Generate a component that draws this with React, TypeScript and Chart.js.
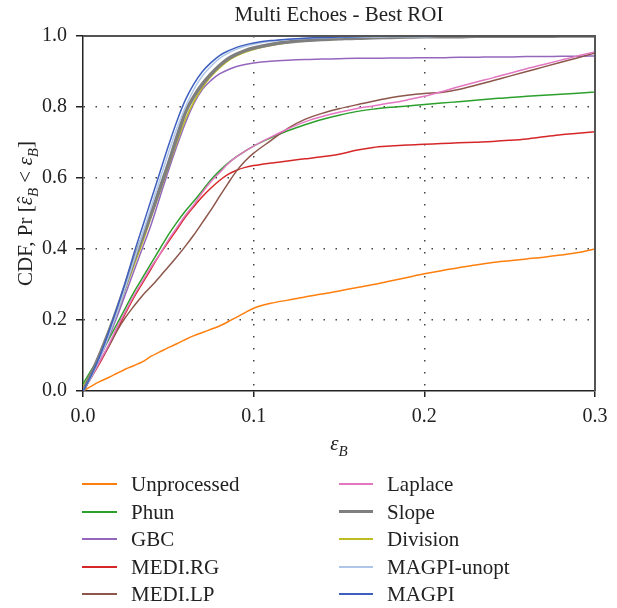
import React, { useEffect, useRef } from 'react';
import { Chart, registerables } from 'chart.js';

Chart.register(...registerables);

// ---------------- data ----------------
const eps = [0, 0.005, 0.01, 0.015, 0.02, 0.025, 0.03, 0.035, 0.04, 0.045, 0.05, 0.055, 0.06, 0.065, 0.07, 0.075, 0.08, 0.085, 0.09, 0.095, 0.1,
  0.11, 0.12, 0.13, 0.14, 0.15, 0.16, 0.17, 0.18, 0.19, 0.2, 0.21, 0.22, 0.23, 0.24, 0.25, 0.26, 0.27, 0.28, 0.29, 0.3];

const unprocessed = [0, 0.014, 0.027, 0.038, 0.05, 0.062, 0.072, 0.083, 0.098, 0.11, 0.122, 0.133, 0.145, 0.156, 0.165, 0.174, 0.183, 0.195, 0.208, 0.221, 0.233,
  0.247, 0.256, 0.265, 0.273, 0.282, 0.291, 0.3, 0.31, 0.32, 0.33, 0.339, 0.347, 0.355, 0.362, 0.367, 0.372, 0.377, 0.383, 0.39, 0.4];
const phun = [0.02, 0.06, 0.1, 0.145, 0.19, 0.235, 0.28, 0.32, 0.36, 0.4, 0.44, 0.475, 0.507, 0.535, 0.565, 0.595, 0.62, 0.642, 0.66, 0.676, 0.69,
  0.713, 0.733, 0.75, 0.765, 0.777, 0.787, 0.794, 0.799, 0.803, 0.807, 0.811, 0.815, 0.819, 0.823, 0.827, 0.83, 0.833, 0.836, 0.839, 0.842];
const gbc = [0, 0.045, 0.095, 0.15, 0.21, 0.275, 0.34, 0.405, 0.47, 0.545, 0.62, 0.69, 0.755, 0.81, 0.85, 0.875, 0.893, 0.905, 0.914, 0.92, 0.924,
  0.929, 0.932, 0.934, 0.935, 0.936, 0.937, 0.937, 0.938, 0.938, 0.939, 0.939, 0.94, 0.94, 0.941, 0.941, 0.942, 0.942, 0.943, 0.943, 0.944];
const mediRG = [0, 0.04, 0.08, 0.125, 0.172, 0.22, 0.265, 0.305, 0.345, 0.385, 0.42, 0.455, 0.49, 0.52, 0.548, 0.572, 0.593, 0.61, 0.622, 0.63, 0.635,
  0.642, 0.648, 0.654, 0.66, 0.667, 0.678, 0.686, 0.69, 0.693, 0.695, 0.697, 0.699, 0.701, 0.703, 0.706, 0.71, 0.716, 0.722, 0.726, 0.73];
const mediLP = [0, 0.04, 0.085, 0.125, 0.17, 0.208, 0.24, 0.27, 0.295, 0.322, 0.35, 0.378, 0.408, 0.44, 0.475, 0.51, 0.548, 0.585, 0.62, 0.648, 0.67,
  0.705, 0.74, 0.765, 0.782, 0.795, 0.806, 0.816, 0.826, 0.833, 0.838, 0.841, 0.849, 0.861, 0.874, 0.887, 0.9, 0.913, 0.926, 0.939, 0.952];
const laplace = [0, 0.04, 0.085, 0.13, 0.18, 0.225, 0.27, 0.31, 0.35, 0.385, 0.425, 0.46, 0.495, 0.525, 0.56, 0.59, 0.615, 0.64, 0.66, 0.676, 0.69,
  0.715, 0.738, 0.758, 0.773, 0.785, 0.795, 0.803, 0.811, 0.82, 0.83, 0.843, 0.857, 0.87, 0.882, 0.895, 0.908, 0.92, 0.932, 0.944, 0.955];
const slope = [0, 0.05, 0.105, 0.165, 0.23, 0.3, 0.37, 0.435, 0.5, 0.57, 0.64, 0.715, 0.785, 0.83, 0.865, 0.893, 0.917, 0.936, 0.949, 0.959, 0.966,
  0.976, 0.983, 0.987, 0.99, 0.992, 0.994, 0.995, 0.996, 0.997, 0.998, 0.998, 0.998, 0.999, 0.999, 0.999, 0.999, 0.999, 1.0, 1.0, 1.0];
const division = [0.01, 0.055, 0.105, 0.16, 0.222, 0.29, 0.355, 0.42, 0.49, 0.56, 0.63, 0.7, 0.765, 0.815, 0.855, 0.886, 0.91, 0.93, 0.944, 0.954, 0.962,
  0.973, 0.981, 0.986, 0.989, 0.991, 0.993, 0.994, 0.995, 0.996, 0.997, 0.998, 0.998, 0.999, 0.999, 0.999, 1.0, 1.0, 1.0, 1.0, null];
const magpiUnopt = [0, 0.042, 0.095, 0.155, 0.222, 0.295, 0.37, 0.445, 0.52, 0.595, 0.67, 0.74, 0.8, 0.85, 0.888, 0.915, 0.937, 0.952, 0.963, 0.971, 0.977,
  0.985, 0.99, 0.993, 0.995, 0.996, 0.997, 0.997, 0.998, 0.998, 0.998, 0.999, 0.999, 0.999, 0.999, 0.999, 1.0, null, null, null, null];
const magpi = [0, 0.045, 0.1, 0.165, 0.235, 0.31, 0.39, 0.465, 0.54, 0.615, 0.69, 0.76, 0.82, 0.865, 0.9, 0.925, 0.945, 0.958, 0.968, 0.975, 0.98,
  0.987, 0.991, 0.994, 0.996, 0.997, 0.998, 0.999, 0.999, 1.0, null, null, null, null, null, null, null, null, null, null, null];

const seriesNames = ['Unprocessed', 'Phun', 'GBC', 'MEDI.RG', 'MEDI.LP', 'Laplace', 'Slope', 'Division', 'MAGPI-unopt', 'MAGPI'];
const seriesValues = [unprocessed, phun, gbc, mediRG, mediLP, laplace, slope, division, magpiUnopt, magpi];
const seriesColors = ['#ff7f0e', '#2ca02c', '#9467bd', '#d62728', '#8c564b', '#e377c2', '#7f7f7f', '#bcbd22', '#aec7e8', '#3f5fbf'];
const seriesWidths = [1.5, 1.5, 1.5, 1.5, 1.5, 1.5, 3.5, 1.5, 1.5, 1.5];
// drawing order, topmost first
const drawOrder = [9, 8, 6, 7, 5, 4, 3, 2, 1, 0];

const xTickValues = [0, 0.1, 0.2, 0.3];
const yTickValues = [0, 0.2, 0.4, 0.6, 0.8, 1.0];
const chartTitle = 'Multi Echoes - Best ROI';

// ---------------- layout ----------------
const W = 617;
const H = 608;
const FONT = '"Liberation Serif", "Times New Roman", serif';
const TEXT = '#222';

type Part = { t: string; it?: boolean; sub?: boolean; hat?: boolean };

function drawRich(ctx: CanvasRenderingContext2D, parts: Part[], cx: number, cy: number, size: number) {
  const subSize = Math.round(size * 0.72);
  const fontOf = (p: Part) => `${p.it ? 'italic ' : ''}${p.sub ? subSize : size}px ${FONT}`;
  let total = 0;
  const widths = parts.map((p) => {
    ctx.font = fontOf(p);
    const w = ctx.measureText(p.t).width;
    total += w;
    return w;
  });
  let x = cx - total / 2;
  ctx.textBaseline = 'alphabetic';
  const base = cy + size * 0.33;
  parts.forEach((p, i) => {
    ctx.font = fontOf(p);
    ctx.textAlign = 'left';
    ctx.fillText(p.t, x, base + (p.sub ? size * 0.28 : 0));
    if (p.hat) {
      ctx.font = `${size}px ${FONT}`;
      ctx.textAlign = 'center';
      ctx.fillText('\u02C6', x + widths[i] / 2 + 1.5, base);
    }
    x += widths[i];
  });
}

const decorPlugin = {
  id: 'decor',
  afterDraw(chart: any) {
    const { ctx, chartArea: a } = chart;
    ctx.save();
    ctx.strokeStyle = '#555';
    ctx.lineWidth = 2;
    ctx.beginPath();
    ctx.moveTo(a.left, a.top);
    ctx.lineTo(a.right, a.top);
    ctx.lineTo(a.right, a.bottom);
    ctx.stroke();

    ctx.fillStyle = TEXT;
    ctx.font = `21px ${FONT}`;
    ctx.textAlign = 'center';
    ctx.textBaseline = 'middle';
    ctx.fillText(chartTitle, (a.left + a.right) / 2, 15);

    drawRich(ctx, [{ t: 'ε', it: true }, { t: 'B', it: true, sub: true }], (a.left + a.right) / 2, 443, 21);

    ctx.save();
    ctx.translate(25, (a.top + a.bottom) / 2);
    ctx.rotate(-Math.PI / 2);
    drawRich(ctx, [
      { t: 'CDF, Pr [' },
      { t: 'ε', it: true, hat: true },
      { t: 'B', it: true, sub: true },
      { t: ' < ' },
      { t: 'ε', it: true },
      { t: 'B', it: true, sub: true },
      { t: ']' },
    ], 0, 0, 21);
    ctx.restore();
    ctx.restore();
  },
};

const gridColor = (edge0: number, edge1: number) => (c: any) => {
  const v = c && c.tick ? c.tick.value : null;
  if (v === null || Math.abs(v - edge0) < 1e-9 || Math.abs(v - edge1) < 1e-9) return 'rgba(0,0,0,0)';
  return '#444';
};

export default function App() {
  const ref = useRef<HTMLCanvasElement>(null);

  useEffect(() => {
    const canvas = ref.current;
    if (!canvas) return;
    const datasets = drawOrder.map((i) => ({
      label: seriesNames[i],
      data: eps.map((x, k) => ({ x, y: seriesValues[i][k] })),
      borderColor: seriesColors[i],
      backgroundColor: seriesColors[i],
      borderWidth: seriesWidths[i],
      pointRadius: 0,
      fill: false,
      cubicInterpolationMode: 'monotone' as const,
      spanGaps: false,
    }));

    const chart = new Chart(canvas, {
      type: 'line',
      data: { datasets },
      options: {
        animation: false,
        responsive: false,
        maintainAspectRatio: false,
        devicePixelRatio: 1,
        layout: { padding: { left: 0, right: 22, top: 36, bottom: 0 } },
        plugins: {
          legend: { display: false },
          title: { display: false },
          tooltip: { enabled: false },
        },
        scales: {
          x: {
            type: 'linear',
            min: 0,
            max: 0.3,
            afterFit: (s: any) => { s.height = H - 391; },
            afterBuildTicks: (s: any) => { s.ticks = xTickValues.map((v) => ({ value: v })); },
            ticks: {
              callback: (v: any) => Number(v).toFixed(1),
              font: { family: FONT, size: 20 },
              color: TEXT,
              padding: 8,
              maxRotation: 0,
              autoSkip: false,
            },
            grid: {
              color: gridColor(0, 0.3),
              lineWidth: 1.5,
              drawTicks: true,
              tickLength: 6,
              tickColor: '#222',
              tickWidth: 1.5,
            },
            border: { display: true, color: '#222', width: 1.5, dash: [1.5, 10.5] },
          },
          y: {
            type: 'linear',
            min: 0,
            max: 1,
            afterFit: (s: any) => { s.width = 83; },
            afterBuildTicks: (s: any) => { s.ticks = yTickValues.map((v) => ({ value: v })); },
            ticks: {
              callback: (v: any) => Number(v).toFixed(1),
              font: { family: FONT, size: 20 },
              color: TEXT,
              padding: 9,
              autoSkip: false,
            },
            grid: {
              color: gridColor(0, 1),
              lineWidth: 1.5,
              drawTicks: true,
              tickLength: 7,
              tickColor: '#222',
              tickWidth: 1.5,
            },
            border: { display: true, color: '#222', width: 1.5, dash: [1.5, 10.5] },
          },
        },
      },
      plugins: [decorPlugin],
    });
    return () => chart.destroy();
  }, []);

  const legendCols = [
    { lineX: 82, lineW: 35, textX: 131, items: [0, 1, 2, 3, 4] },
    { lineX: 339, lineW: 34, textX: 387, items: [5, 6, 7, 8, 9] },
  ];
  const rowY = (r: number) => 484 + r * 27.6;

  return (
    <div style={{ position: 'fixed', left: 0, top: 0, width: W, height: H, background: '#fff', overflow: 'hidden' }}>
      <canvas ref={ref} width={W} height={H} style={{ position: 'absolute', left: 0, top: 0, width: W, height: H }} />
      {legendCols.map((col, ci) =>
        col.items.map((si, r) => {
          const y = rowY(r);
          const lw = seriesWidths[si] > 2 ? 3.5 : 2;
          return (
            <React.Fragment key={`${ci}-${r}`}>
              <div style={{ position: 'absolute', left: col.lineX, top: y - lw / 2, width: col.lineW, height: lw, background: seriesColors[si] }} />
              <span style={{ position: 'absolute', left: col.textX, top: y - 12, fontFamily: FONT, fontSize: 21, lineHeight: '24px', color: TEXT, whiteSpace: 'nowrap' }}>
                {seriesNames[si]}
              </span>
            </React.Fragment>
          );
        })
      )}
    </div>
  );
}
